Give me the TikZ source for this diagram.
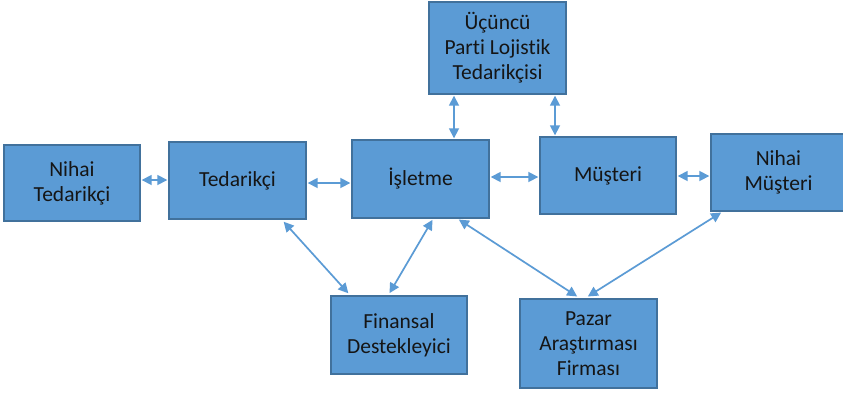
\documentclass[tikz,border=0pt]{standalone}
\usepackage{fontspec}
\setmainfont{Carlito}[Ligatures=NoCommon]
\usetikzlibrary{arrows.meta}
\definecolor{boxfill}{HTML}{5B9BD5}
\definecolor{boxline}{HTML}{41719C}
\definecolor{linkcol}{HTML}{5B9BD5}
\definecolor{txt}{HTML}{151515}
\tikzset{
  party/.style={draw=boxline, fill=boxfill, line width=1.4pt, text=txt,
    align=center, font=\fontsize{21.5}{25}\selectfont, inner sep=0pt},
  link/.style={draw=linkcol, line width=1.7pt,
    {Triangle[length=10pt,width=10pt]}-{Triangle[length=10pt,width=10pt]}, shorten <=1pt, shorten >=1pt}
}
% box given by corners (left, top) and (right, bottom) in pixel units
\newcommand{\partybox}[6]{%
  \node[party, minimum width={#4-#2}, minimum height={#5-#3}]
    (#1) at ({(#2+#4)/2},{(#3+#5)/2}) {#6};}
\begin{document}
\begin{tikzpicture}[x=1pt, y=-1pt]
\useasboundingbox (0,0) rectangle (843,394);
\clip (0,0) rectangle (843,394);
\fill[white] (0,0) rectangle (843,394);

\partybox{nt}{4}{145}{140}{221}{Nihai\\Tedarikçi}
\partybox{ted}{169}{142}{306}{219}{Tedarikçi}
\partybox{isl}{352}{140}{489}{218}{İşletme}
\partybox{ucp}{429}{2}{566}{94}{Üçüncü\\Parti Lojistik\\Tedarikçisi}
\partybox{mus}{540}{137}{676}{214}{Müşteri}
\partybox{nm}{711}{134}{846}{211}{Nihai\\Müşteri}
\partybox{fin}{331}{296}{467}{374}{Finansal\\Destekleyici}
\partybox{paz}{520}{299}{657}{388}{Pazar\\Araştırması\\Firması}

% horizontal links along the middle row
\draw[link] (nt.east |- 0,180) -- (ted.west |- 0,180);
\draw[link] (ted.east |- 0,183) -- (isl.west |- 0,183);
\draw[link] (isl.east |- 0,177) -- (mus.west |- 0,177);
\draw[link] (mus.east |- 0,176) -- (nm.west |- 0,176);

% links to the logistics provider
\draw[link] (ucp.south -| 454,0) -- (isl.north -| 454,0);
\draw[link] (ucp.south -| 555,0) -- (mus.north -| 555,0);

% diagonal links to the lower row
\coordinate (tedA) at (283,221);
\coordinate (finA) at (349,294);
\coordinate (islA) at (433,219);
\coordinate (finB) at (389,294);
\coordinate (islB) at (458,219);
\coordinate (pazA) at (578,297);
\coordinate (nmA)  at (722,212);
\coordinate (pazB) at (587,297);
\draw[link] (tedA) -- (finA);
\draw[link] (islA) -- (finB);
\draw[link] (islB) -- (pazA);
\draw[link] (nmA) -- (pazB);
\end{tikzpicture}
\end{document}
